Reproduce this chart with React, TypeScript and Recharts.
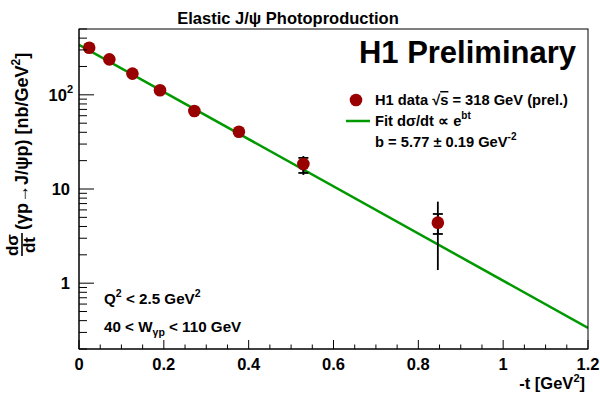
import React from 'react';
import { ComposedChart, Line, Scatter, ErrorBar, XAxis, YAxis } from 'recharts';

// H1 elastic J/psi photoproduction, d sigma / dt vs -t
const tValues = [0.024, 0.0715, 0.126, 0.191, 0.272, 0.377, 0.529, 0.846];
const xsecValues = [316, 238, 168, 112, 67.4, 40.6, 18.4, 4.39];
const statLow = [306, 230, 162, 108, 64.5, 38.6, 14.8, 3.33];
const statHigh = [326, 246, 174, 116, 70.3, 42.6, 21.4, 5.43];
const totLow = [298, 224, 157, 104, 62, 37, 14.1, 1.38];
const totHigh = [334, 252, 179, 120, 73, 44.5, 22.4, 7.34];

// exponential fit, read at its two ends
const fitT = [0, 1.2];
const fitXsec = [340, 0.335];

const xTicks = [
  0, 0.05, 0.1, 0.15, 0.2, 0.25, 0.3, 0.35, 0.4, 0.45, 0.5, 0.55, 0.6,
  0.65, 0.7, 0.75, 0.8, 0.85, 0.9, 0.95, 1, 1.05, 1.1, 1.15, 1.2,
];
const xMajor = [0, 0.2, 0.4, 0.6, 0.8, 1, 1.2];
const yTicks = [
  0.2, 0.3, 0.4, 0.5, 0.6, 0.7, 0.8, 0.9, 1, 2, 3, 4, 5, 6, 7, 8, 9,
  10, 20, 30, 40, 50, 60, 70, 80, 90, 100, 200, 300, 400, 500,
];
const yMajor = [1, 10, 100];

const FONT = "'Liberation Sans', Arial, Helvetica, sans-serif";
const RED = '#990000';
const GREEN = '#009900';

const points = tValues.map((t, i) => ({
  t,
  xsec: xsecValues[i],
  stat: [xsecValues[i] - statLow[i], statHigh[i] - xsecValues[i]],
  tot: [xsecValues[i] - totLow[i], totHigh[i] - xsecValues[i]],
}));
const fit = fitT.map((t, i) => ({ t, xsec: fitXsec[i] }));

const XTick = (props: any) => {
  const { x, y, payload } = props;
  const v = payload.value;
  const major = xMajor.some((m) => Math.abs(m - v) < 1e-6);
  return (
    <g>
      <line x1={x} x2={x} y1={y} y2={y - (major ? 9 : 4.5)} stroke="#000" strokeWidth={1} />
      {major && (
        <text x={x} y={y + 21} textAnchor="middle" fontFamily={FONT} fontWeight={700} fontSize={16.5} fill="#000">
          {String(Math.round(v * 10) / 10)}
        </text>
      )}
    </g>
  );
};

const YTick = (props: any) => {
  const { x, y, payload } = props;
  const v = payload.value;
  const major = yMajor.some((m) => Math.abs(m - v) < 1e-6);
  let label: React.ReactNode = null;
  if (v === 1 || v === 10) {
    label = (
      <text x={x - 9} y={y + 6} textAnchor="end" fontFamily={FONT} fontWeight={700} fontSize={16.5} fill="#000">
        {String(v)}
      </text>
    );
  } else if (v === 100) {
    label = (
      <text x={x - 6} y={y + 6} textAnchor="end" fontFamily={FONT} fontWeight={700} fontSize={16.5} fill="#000">
        10<tspan fontSize={11} dy={-8}>2</tspan>
      </text>
    );
  }
  return (
    <g>
      <line x1={x} x2={x + (major ? 15 : 8)} y1={y} y2={y} stroke="#000" strokeWidth={1} />
      {label}
    </g>
  );
};

const txt = { fontFamily: FONT, fontWeight: 700, fill: '#000' } as const;

export default function App() {
  return (
    <div style={{ position: 'relative', width: 600, height: 396, background: '#fff' }}>
      <style>{'body{margin:0}'}</style>
      <ComposedChart width={600} height={396} margin={{ top: 29, right: 12, bottom: 0, left: 0 }}>
        <XAxis
          dataKey="t"
          type="number"
          domain={[0, 1.2]}
          ticks={xTicks}
          interval={0}
          height={47}
          tickSize={0}
          tickMargin={0}
          tickLine={false}
          axisLine={{ stroke: '#000', strokeWidth: 1 }}
          tick={<XTick />}
          allowDataOverflow
        />
        <YAxis
          dataKey="xsec"
          type="number"
          scale="log"
          domain={[0.2, 500]}
          ticks={yTicks}
          interval={0}
          width={79}
          tickSize={0}
          tickMargin={0}
          tickLine={false}
          axisLine={{ stroke: '#000', strokeWidth: 1 }}
          tick={<YTick />}
          allowDataOverflow
        />
        <Line
          data={fit}
          dataKey="xsec"
          stroke={GREEN}
          strokeWidth={2.5}
          dot={false}
          activeDot={false}
          isAnimationActive={false}
        />
        <Scatter data={points} dataKey="xsec" fill={RED} isAnimationActive={false}
          shape={() => <g />}>
          <ErrorBar dataKey="tot" direction="y" width={0} stroke="#000" strokeWidth={1.8} isAnimationActive={false} />
          <ErrorBar dataKey="stat" direction="y" width={5} stroke="#000" strokeWidth={1.8} isAnimationActive={false} />
        </Scatter>
        <Scatter data={points} dataKey="xsec" fill={RED} isAnimationActive={false}
          shape={(p: any) => <circle cx={p.cx} cy={p.cy} r={6.3} fill={RED} />} />
      </ComposedChart>
      <svg width={600} height={396} style={{ position: 'absolute', left: 0, top: 0, pointerEvents: 'none' }}>
        <rect x={79} y={29} width={509} height={320} fill="none" stroke="#000" strokeWidth={1} />
        <text x={288} y={24} textAnchor="middle" fontSize={16.5} {...txt}>
          Elastic J/ψ Photoproduction
        </text>
        <text x={576} y={63} textAnchor="end" fontSize={31} {...txt}>
          H1 Preliminary
        </text>

        <circle cx={356} cy={100} r={6.3} fill={RED} />
        <text x={375} y={105} fontSize={14.7} {...txt}>
          H1 data √<tspan textDecoration="overline">s</tspan> = 318 GeV (prel.)
        </text>
        <line x1={346} x2={370} y1={121} y2={121} stroke={GREEN} strokeWidth={2.5} />
        <text x={375} y={126} fontSize={14.7} {...txt}>
          Fit dσ/dt ∝ e<tspan fontSize={10} dy={-7}>bt</tspan>
        </text>
        <text x={375} y={147} fontSize={14.7} {...txt}>
          b = 5.77 ± 0.19 GeV<tspan fontSize={10} dy={-7}>-2</tspan>
        </text>

        <text x={104} y={304} fontSize={15.2} {...txt}>
          Q<tspan fontSize={10.5} dy={-7}>2</tspan>
          <tspan dy={7}> &lt; 2.5 GeV</tspan>
          <tspan fontSize={10.5} dy={-7}>2</tspan>
        </text>
        <text x={104} y={332} fontSize={15.2} {...txt}>
          40 &lt; W<tspan fontSize={10.5} dy={4}>γp</tspan>
          <tspan dy={-4}> &lt; 110 GeV</tspan>
        </text>

        <text x={585} y={389} textAnchor="end" fontSize={16.5} {...txt}>
          -t [GeV<tspan fontSize={11} dy={-7}>2</tspan>
          <tspan dy={7}>]</tspan>
        </text>

        <g transform="translate(22,257) rotate(-90)">
          <text x={12} y={-4} textAnchor="middle" fontSize={17} {...txt}>dσ</text>
          <line x1={1} x2={24} y1={0} y2={0} stroke="#000" strokeWidth={1.6} />
          <text x={12} y={13} textAnchor="middle" fontSize={17} {...txt}>dt</text>
          <text x={27} y={6} fontSize={18} {...txt}>
            (γp→J/ψp) [nb/GeV<tspan fontSize={12} dy={-8}>2</tspan>
            <tspan dy={8}>]</tspan>
          </text>
        </g>
      </svg>
    </div>
  );
}
